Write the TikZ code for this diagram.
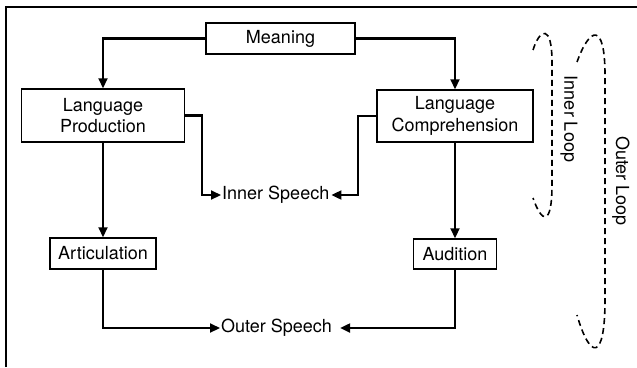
\documentclass[tikz,border=0pt]{standalone}
\usepackage{fontspec}
\setmainfont{TeX Gyre Heros}
\usetikzlibrary{arrows.meta}
\begin{document}
\begin{tikzpicture}[x=1pt,y=-1pt,
  box/.style={draw,line width=1.5pt,inner sep=0pt,align=center,font=\fontsize{18}{21.5}\selectfont},
  lbl/.style={inner sep=0pt,font=\fontsize{18}{21.5}\selectfont},
  conn/.style={line width=2.2pt,-{Triangle[length=10pt,width=9pt]}},
  loop/.style={line width=1.6pt,dash pattern=on 6pt off 4pt}]
\useasboundingbox (0,0) rectangle (637,367);
\draw[line width=2.4pt] (6,367) -- (6,7) -- (637,7);
\node[box,minimum width=149pt,minimum height=31pt] (M) at (280.5,38.5) {Meaning};
\node[box,minimum width=163pt,minimum height=53pt] (LP) at (103,115.5) {Language\\Production};
\node[box,minimum width=156pt,minimum height=52pt] (LC) at (455,116) {Language\\Comprehension};
\node[box,minimum width=106pt,minimum height=31pt] (AR) at (103,253.5) {Articulation};
\node[box,minimum width=83pt,minimum height=30pt] (AU) at (455,254) {Audition};
\node[lbl,anchor=west] (IS) at (222,195) {Inner Speech};
\node[lbl,anchor=west] (OS) at (221,328) {Outer Speech};
\path (IS.east) ++(2,0) coordinate (ISe);
\path (IS.west) ++(-1,0) coordinate (ISw);
\path (OS.east) ++(8,0) coordinate (OSe);
\path (OS.west) ++(-1,0) coordinate (OSw);
\draw[conn] (M.west) -| (LP.north);
\draw[conn] (M.east) -| (LC.north);
\draw[conn] (LP.east) -- ++(17,0) |- (ISw);
\draw[conn] (LC.west) -- ++(-18,0) |- (ISe);
\draw[conn] (LP.south) -- (AR.north);
\draw[conn] (LC.south) -- (AU.north);
\draw[conn] (AR.south) |- (OSw);
\draw[conn] (AU.south) |- (OSe);
\draw[loop] (533,50) .. controls (540,28) and (552,24) .. (552,62) -- (552,185) .. controls (552,226) and (542,224) .. (533,198);
\draw[loop] (577,62) .. controls (590,26) and (605,22) .. (605,75) -- (605,300) .. controls (605,362) and (590,360) .. (577,315);
\node[lbl,rotate=-90] (IL) at (569,119) {Inner Loop};
\node[lbl,rotate=-90] (OL) at (621,181) {Outer Loop};
\end{tikzpicture}
\end{document}
